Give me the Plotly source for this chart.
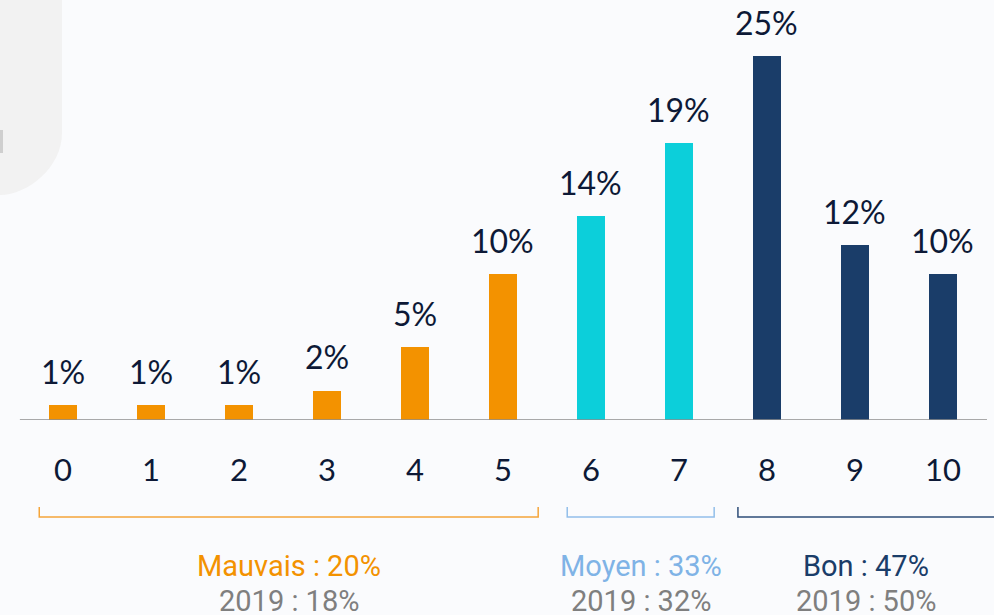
import plotly.graph_objects as go

# note de 0 a 10 et part des répondants (%)
scores = [0, 1, 2, 3, 4, 5, 6, 7, 8, 9, 10]
shares = [1, 1, 1, 2, 5, 10, 14, 19, 25, 12, 10]

# regroupements
groups = ["Mauvais", "Moyen", "Bon"]
group_first = [0, 6, 8]
group_last = [5, 7, 10]
group_share = [20, 33, 47]
group_share_2019 = [18, 32, 50]

bar_colors = ["#F39200", "#0CCFDA", "#1A3D69"]
label_colors = ["#F39200", "#7FB3E6", "#1A3D69"]
bracket_colors = ["#F5A53A", "#92BFEA", "#2E4D78"]

TEXT = "#0D1936"
GREY = "#7F7F7F"
BG = "#FAFBFD"

W, H = 994, 615
PLOT_H = 420
X_RANGE = [-0.716, 10.58]
Y_RANGE = [0, 28.85]


def color_for(score):
    for first, last, c in zip(group_first, group_last, bar_colors):
        if first <= score <= last:
            return c
    return GREY


def px_to_paper(x, y):
    return x / W, (PLOT_H - y) / PLOT_H


fig = go.Figure()

fig.add_trace(go.Bar(
    x=scores,
    y=shares,
    width=0.31,
    marker=dict(color=[color_for(s) for s in scores], line=dict(width=0)),
    hoverinfo="skip",
))

# étiquettes de valeur au-dessus des barres
for s, v in zip(scores, shares):
    fig.add_annotation(
        x=s, y=v, text=f"{v}%", showarrow=False,
        yanchor="middle", yshift=34,
        font=dict(family="Lato", size=32, color=TEXT),
    )

# ligne de base
fig.add_shape(type="line", xref="x", yref="y",
              x0=-0.49, x1=10.5, y0=0, y1=0,
              line=dict(color="#8C8C8C", width=1.5))

# accolades et libellés des groupes
_, yb = px_to_paper(0, 517)
_, yt = px_to_paper(0, 507)
for i, g in enumerate(groups):
    x0 = group_first[i] - 0.27
    x1 = group_last[i] + 0.4
    xm = (x0 + x1) / 2
    if i == len(groups) - 1:
        x0 = group_first[i] - 0.33
        xm = (x0 + X_RANGE[1]) / 2
        x1 = X_RANGE[1] + 0.5  # l'accolade sort du cadre
    fig.add_shape(
        type="path", xref="x", yref="paper",
        path=f"M {x0},{yt} L {x0},{yb} L {x1},{yb} L {x1},{yt}",
        line=dict(color=bracket_colors[i], width=1.5),
    )
    fig.add_annotation(
        x=xm, xref="x", y=px_to_paper(0, 566)[1], yref="paper",
        yanchor="middle",
        text=f"{g} : {group_share[i]}%", showarrow=False,
        font=dict(family="Roboto", size=29, color=label_colors[i]),
    )
    fig.add_annotation(
        x=xm, xref="x", y=px_to_paper(0, 601)[1], yref="paper",
        yanchor="middle",
        text=f"2019 : {group_share_2019[i]}%", showarrow=False,
        font=dict(family="Roboto", size=29, color=GREY),
    )

# décor gris en haut à gauche
r = 62
k = 0.552 * r
pts = [(-5, -5), (62, -5), (62, 195 - r), (62, 195 - r + k), (r - k, 195), (0, 195), (-5, 195)]
p = [px_to_paper(x, y) for x, y in pts]
path = (f"M {p[0][0]},{p[0][1]} L {p[1][0]},{p[1][1]} L {p[2][0]},{p[2][1]} "
        f"C {p[3][0]},{p[3][1]} {p[4][0]},{p[4][1]} {p[5][0]},{p[5][1]} "
        f"L {p[6][0]},{p[6][1]} Z")
fig.add_shape(type="path", xref="paper", yref="paper", path=path,
              fillcolor="#F2F2F2", line=dict(width=0), layer="below")
a = px_to_paper(0, 130)
b = px_to_paper(3, 153)
fig.add_shape(type="rect", xref="paper", yref="paper",
              x0=a[0], y0=a[1], x1=b[0], y1=b[1],
              fillcolor="#CFCFCF", line=dict(width=0), layer="below")

fig.update_layout(
    width=W, height=H,
    margin=dict(l=0, r=0, t=0, b=H - PLOT_H),
    paper_bgcolor=BG, plot_bgcolor="rgba(0,0,0,0)",
    showlegend=False,
    bargap=0,
    xaxis=dict(
        range=X_RANGE, tickvals=scores, ticktext=[str(s) for s in scores],
        showgrid=False, zeroline=False, showline=False, ticks="",
        ticklabelstandoff=29,
        tickfont=dict(family="Lato", size=31, color=TEXT),
        fixedrange=True,
    ),
    yaxis=dict(range=Y_RANGE, visible=False, fixedrange=True),
)

fig.write_html("out.html", config={"displayModeBar": False},
               post_script="document.body.style.margin='0';")
